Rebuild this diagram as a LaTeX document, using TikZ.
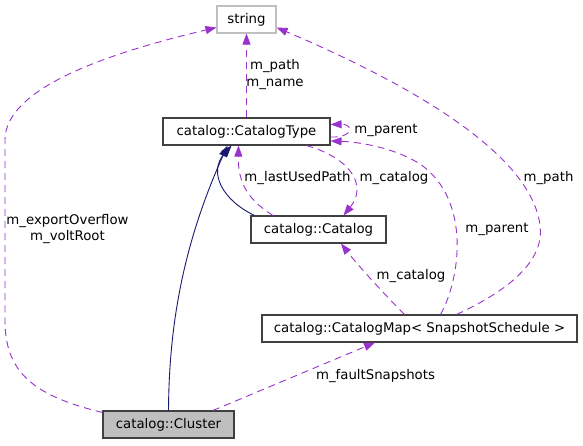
\documentclass[tikz,border=0pt]{standalone}
\usepackage{fontspec}
\setmainfont{DejaVu Sans}
\usetikzlibrary{arrows.meta,calc}
\definecolor{edgepurple}{HTML}{9A32CD}
\definecolor{navyblue}{HTML}{191970}
\definecolor{boxborder}{HTML}{404040}
\definecolor{lightborder}{HTML}{BFBFBF}
\definecolor{clusterfill}{HTML}{BFBFBF}
\begin{document}
\begin{tikzpicture}[x=1pt,y=-1pt,
  cls/.style={draw=boxborder, line width=1.1pt, minimum height=27pt, inner sep=0pt, font=\fontsize{13.3}{16}\selectfont},
  lbl/.style={inner sep=0pt, align=center, font=\fontsize{13.3}{16.5}\selectfont},
  member/.style={draw=edgepurple, line width=0.9pt, dash pattern=on 7pt off 5pt, -{Triangle[length=11pt,width=8pt]}},
  inherit/.style={draw=navyblue, line width=0.9pt, -{Triangle[length=11pt,width=8pt]}}]
\useasboundingbox (0,0) rectangle (583,445);
\fill[white] (0,0) rectangle (583,445);
% nodes
\node[cls, draw=lightborder, minimum width=59pt] (str) at (246.5,19.5) {string};
\node[cls, minimum width=167pt] (ctype) at (246.5,131.5) {catalog::CatalogType};
\node[cls, minimum width=135pt] (cat) at (318.5,229.5) {catalog::Catalog};
\node[cls, minimum width=315pt] (cmap) at (419.5,328.5) {catalog::CatalogMap< SnapshotSchedule >};
\node[cls, fill=clusterfill, minimum width=131pt] (clu) at (168.5,424.5) {catalog::Cluster};
% labels
\node[lbl] (l1) at (275,74.5) {m\_path\\m\_name};
\node[lbl] (l2) at (386,130) {m\_parent};
\node[lbl] (l3) at (297.5,178) {m\_lastUsedPath};
\node[lbl] (l4) at (394,178) {m\_catalog};
\node[lbl] (l5) at (548.5,178) {m\_path};
\node[lbl] (l6) at (497,229) {m\_parent};
\node[lbl] (l7) at (67.5,229) {m\_exportOverflow\\m\_voltRoot};
\node[lbl] (l8) at (411,276) {m\_catalog};
\node[lbl] (l9) at (375.5,376) {m\_faultSnapshots};
% inheritance
\draw[inherit] (clu.north) .. controls (169,320) and (185,240) .. ($(ctype.south)+(-19,0)$);
\draw[inherit] ($(cat.north)+(-64,0)$) .. controls (222,200) and (208,172) .. ($(ctype.south)+(-15,0)$);
% members
\draw[member] (ctype.north) -- (str.south);
\draw[member] ($(cat.north)+(-45.5,0)$) .. controls (245,198) and (238,180) .. ($(ctype.south)+(-8,0)$);
\draw[member] ($(ctype.south)+(60,0)$) .. controls (350,158) and (368,185) .. ($(cat.north)+(25,0)$);
\draw[member] ($(ctype.east)+(0,5.5)$) .. controls (354,138) and (354,124) .. ($(ctype.east)+(0,-7)$);
\draw[member] ($(cmap.north)+(21,0)$) .. controls (460,280) and (472,200) .. (420,164) .. controls (395,148) and (360,142) .. ($(ctype.east)+(0,9.5)$);
\draw[member] ($(cmap.north)+(37,0)$) .. controls (510,290) and (545,260) .. (540,225) .. controls (530,150) and (400,80) .. ($(str.east)+(0,8)$);
\draw[member] ($(cmap.north)+(-15,0)$) .. controls (390,300) and (360,268) .. ($(cat.south)+(22.5,0)$);
\draw[member] ($(clu.north)+(44.5,0)$) -- ($(cmap.south)+(-44.5,0)$);
\draw[member] ($(clu.north west)+(0,2)$) .. controls (30,395) and (5,370) .. (5,320) -- (5,140) .. controls (5,90) and (100,55) .. ($(str.west)+(0,8)$);
\end{tikzpicture}
\end{document}
